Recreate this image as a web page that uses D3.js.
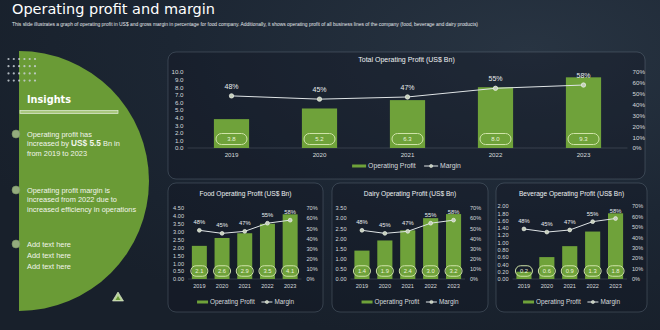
<!DOCTYPE html>
<html><head><meta charset="utf-8">
<script src="https://cdn.jsdelivr.net/npm/d3@7"></script>
<style>body{margin:0;background:#1a2330;overflow:hidden}svg{display:block}</style>
</head><body><svg id="c" width="660" height="330"></svg>
<script>
// ---------- data ----------
const years = ["2019", "2020", "2021", "2022", "2023"];
const totalProfit = [3.8, 5.2, 6.3, 8.0, 9.3];
const foodProfit = [2.1, 2.6, 2.9, 3.5, 4.1];
const dairyProfit = [1.4, 1.9, 2.4, 3.0, 3.2];
const beverageProfit = [0.2, 0.6, 0.9, 1.3, 1.8];
const marginPct = [48, 45, 47, 55, 58];
const totalTicks = [0, 1, 2, 3, 4, 5, 6, 7, 8, 9, 10];
const foodTicks = [0, 0.5, 1, 1.5, 2, 2.5, 3, 3.5, 4, 4.5];
const dairyTicks = [0, 0.5, 1, 1.5, 2, 2.5, 3, 3.5];
const beverageTicks = [0, 0.2, 0.4, 0.6, 0.8, 1.0, 1.2, 1.4, 1.6, 1.8, 2.0];
const marginTicks = [0, 10, 20, 30, 40, 50, 60, 70];
const seriesNames = ["Operating Profit", "Margin"];
const chartTitles = ["Total Operating  Profit (US$ Bn)", "Food Operating  Profit (US$ Bn)", "Dairy Operating  Profit (US$ Bn)", "Beverage  Operating  Profit (US$ Bn)"];
const insights = [
  ["Operating profit has", "increased by |US$ 5.5| Bn in", "from 2019 to 2023"],
  ["Operating profit margin is", "increased from 2022 due to", "increased efficiency in operations"],
  ["Add text here", "Add text here", "Add text here"]
];

// ---------- styles ----------
const GREEN = "#6fa23a";
const TXT = "#d6dadd";
const FONT = "'Liberation Sans', Arial, sans-serif";

const svg = d3.select("#c");
const defs = svg.append("defs");
const bg = defs.append("radialGradient").attr("id", "bg").attr("cx", "0.8").attr("cy", "0.15").attr("r", "0.9");
bg.append("stop").attr("offset", "0").attr("stop-color", "#283442");
bg.append("stop").attr("offset", "0.6").attr("stop-color", "#1c2633");
bg.append("stop").attr("offset", "1").attr("stop-color", "#18202b");
svg.append("rect").attr("width", 660).attr("height", 330).attr("fill", "url(#bg)");

// title
svg.append("text").attr("x", 12).attr("y", 13.5).attr("fill", "#ffffff")
  .attr("font-family", "'DejaVu Sans', sans-serif").attr("font-size", 14.5)
  .attr("textLength", 203).attr("lengthAdjust", "spacingAndGlyphs")
  .text("Operating profit and margin");
svg.append("text").attr("x", 12).attr("y", 26).attr("fill", "#e4e8ec")
  .attr("font-family", FONT).attr("font-size", 5.3)
  .attr("textLength", 466).attr("lengthAdjust", "spacingAndGlyphs")
  .text("This slide illustrates a graph of operating profit in US$ and gross margin in percentage for food company. Additionally, it shows operating profit of all business lines of the company (food, beverage and dairy products)");

// ---------- left insights panel ----------
const cx = 19, cy = 181, R = 130;
svg.append("path")
  .attr("d", d3.arc()({innerRadius: 0, outerRadius: R, startAngle: 0, endAngle: Math.PI}))
  .attr("transform", `translate(${cx},${cy})`)
  .attr("fill", "#6a9b36");
// dot grid
const dotCols = d3.range(6), dotRows = d3.range(4);
svg.append("g").selectAll("circle")
  .data(d3.cross(dotRows, dotCols))
  .join("circle")
  .attr("cx", d => 8.5 + d[1] * 5.3)
  .attr("cy", d => 59 + d[0] * 7.2)
  .attr("r", 1.1)
  .attr("fill", "#c9d0d6").attr("opacity", 0.85);

svg.append("text").attr("x", 27).attr("y", 103).attr("fill", "#ffffff")
  .attr("font-family", "'DejaVu Sans', sans-serif").attr("font-weight", "bold").attr("font-size", 11)
  .attr("textLength", 44).attr("lengthAdjust", "spacingAndGlyphs").text("Insights");
svg.append("rect").attr("x", 20).attr("y", 110.5).attr("width", 98).attr("height", 3)
  .attr("fill", "#a9c77e").attr("stroke", "#e6eedc").attr("stroke-width", 0.7);

const bulletY = [134, 190, 244];
const lineH = [9.7, 9.7, 11];
insights.forEach((lines, i) => {
  svg.append("circle").attr("cx", 16).attr("cy", bulletY[i]).attr("r", 4)
    .attr("fill", "#93ab7d").attr("stroke", "#7b9465").attr("stroke-width", 0.6);
  lines.forEach((ln, j) => {
    const t = svg.append("text").attr("x", 27).attr("y", bulletY[i] + 2.5 + j * lineH[i])
      .attr("fill", "#f1f5ec").attr("font-family", FONT).attr("font-size", 7.4);
    ln.split("|").forEach((part, k) => {
      const sp = t.append("tspan").text(part);
      if (k === 1) sp.attr("font-weight", "bold").attr("font-size", 8.3);
    });
  });
});
// small logo triangle
svg.append("path").attr("d", "M118,292 L123.5,301 L112.5,301 Z").attr("fill", "#b9d39a").attr("stroke", "#e0ebd2").attr("stroke-width", 0.6);
svg.append("path").attr("d", "M118,296 L120.5,300 L115.5,300 Z").attr("fill", "#6a9b36");

// ---------- chart drawing ----------
function drawChart(cfg) {
  const g = svg.append("g");
  const p = cfg.panel;
  g.append("rect").attr("x", p.x).attr("y", p.y).attr("width", p.w).attr("height", p.h)
    .attr("rx", 8).attr("fill", "rgba(14,20,30,0.32)")
    .attr("stroke", "rgba(140,155,170,0.35)").attr("stroke-width", 0.8);

  g.append("text").attr("x", p.x + p.w / 2 + (cfg.titleDx || 0)).attr("y", cfg.titleY)
    .attr("text-anchor", "middle").attr("fill", "#eef1f3")
    .attr("font-family", FONT).attr("font-size", cfg.titleSize).text(cfg.title);

  const x = d3.scaleBand().domain(years).range([cfg.left, cfg.right]).padding(0);
  const y = d3.scaleLinear().domain([0, d3.max(cfg.ticks)]).range([cfg.bottom, cfg.top]);
  const y2 = d3.scaleLinear().domain([0, 70]).range([cfg.bottom, cfg.top]);

  // left axis
  const ax = g.append("g").attr("transform", `translate(${cfg.left - 2},0)`)
    .call(d3.axisLeft(y).tickValues(cfg.ticks).tickFormat(d3.format(cfg.fmt)).tickSize(0).tickPadding(2));
  ax.select(".domain").remove();
  ax.selectAll("text").attr("fill", TXT).attr("font-family", FONT).attr("font-size", cfg.tickSize);
  // right axis
  const ax2 = g.append("g").attr("transform", `translate(${cfg.right + 3},0)`)
    .call(d3.axisRight(y2).tickValues(marginTicks).tickFormat(d => d + "%").tickSize(0).tickPadding(2));
  ax2.select(".domain").remove();
  ax2.selectAll("text").attr("fill", TXT).attr("font-family", FONT).attr("font-size", cfg.tickSize);
  // baseline
  g.append("line").attr("x1", cfg.left).attr("x2", cfg.right).attr("y1", cfg.bottom).attr("y2", cfg.bottom)
    .attr("stroke", "rgba(170,180,190,0.35)").attr("stroke-width", 0.6);
  // bottom axis labels
  const axb = g.append("g").attr("transform", `translate(0,${cfg.bottom})`)
    .call(d3.axisBottom(x).tickSize(0).tickPadding(cfg.yearPad));
  axb.select(".domain").remove();
  axb.selectAll("text").attr("fill", TXT).attr("font-family", FONT).attr("font-size", cfg.tickSize);

  const bw = x.bandwidth() * cfg.barFrac;
  const cxOf = d => x(d) + x.bandwidth() / 2;
  g.selectAll(".bar").data(cfg.values).join("rect")
    .attr("x", (d, i) => cxOf(years[i]) - bw / 2)
    .attr("y", d => y(d)).attr("width", bw).attr("height", d => cfg.bottom - y(d))
    .attr("fill", GREEN);

  // pills
  const pill = g.selectAll(".pill").data(cfg.values).join("g")
    .attr("transform", (d, i) => `translate(${cxOf(years[i])},${cfg.bottom - cfg.pillDy})`);
  pill.append("rect").attr("x", -cfg.pillW / 2).attr("y", -cfg.pillH / 2)
    .attr("width", cfg.pillW).attr("height", cfg.pillH).attr("rx", cfg.pillH / 2)
    .attr("fill", "none").attr("stroke", "#cfe3a8").attr("stroke-width", 1);
  pill.append("text").attr("text-anchor", "middle").attr("dy", "0.35em")
    .attr("fill", "#eaf2dc").attr("font-family", FONT).attr("font-size", cfg.pillFont)
    .text(d => d3.format(".1f")(d));

  // margin line
  const line = d3.line().x((d, i) => cxOf(years[i])).y(d => y2(d));
  g.append("path").datum(marginPct).attr("d", line).attr("fill", "none")
    .attr("stroke", "#dfe4e6").attr("stroke-width", 1);
  g.selectAll(".mdot").data(marginPct).join("circle")
    .attr("cx", (d, i) => cxOf(years[i])).attr("cy", d => y2(d)).attr("r", cfg.dotR)
    .attr("fill", "#c5cfbb").attr("stroke", "#eef2ea").attr("stroke-width", 0.7);
  g.selectAll(".mlab").data(marginPct).join("text")
    .attr("x", (d, i) => cxOf(years[i])).attr("y", d => y2(d) - cfg.labDy)
    .attr("text-anchor", "middle").attr("fill", "#e8ecee")
    .attr("font-family", FONT).attr("font-size", cfg.labSize).text(d => d + "%");

  // legend
  const lg = g.append("g");
  const fs = cfg.legSize;
  let cur = 0;
  lg.append("rect").attr("x", cur).attr("y", -1.5).attr("width", cfg.swW).attr("height", 3).attr("fill", GREEN);
  cur += cfg.swW + 2;
  const t1 = lg.append("text").attr("x", cur).attr("dy", "0.35em").attr("fill", TXT)
    .attr("font-family", FONT).attr("font-size", fs).text(seriesNames[0]);
  cur += t1.node().getComputedTextLength() + cfg.swW * 0.6;
  lg.append("line").attr("x1", cur).attr("x2", cur + cfg.swW).attr("stroke", "#dfe4e6").attr("stroke-width", 1);
  lg.append("circle").attr("cx", cur + cfg.swW / 2).attr("r", 1.6).attr("fill", "#c5cfbb").attr("stroke", "#eef2ea").attr("stroke-width", 0.5);
  cur += cfg.swW + 2;
  const t2 = lg.append("text").attr("x", cur).attr("dy", "0.35em").attr("fill", TXT)
    .attr("font-family", FONT).attr("font-size", fs).text(seriesNames[1]);
  cur += t2.node().getComputedTextLength();
  lg.attr("transform", `translate(${p.x + p.w / 2 - cur / 2 + (cfg.legDx || 0)},${cfg.legendY})`);
}

const smallCommon = {
  titleSize: 6.6, tickSize: 5.6, fmt: ".2f", barFrac: 0.66, pillW: 17, pillH: 10.5, pillDy: 8,
  pillFont: 5.8, dotR: 1.9, labDy: 6, labSize: 5.8, legSize: 6.4, swW: 11, yearPad: 5,
  top: 208, bottom: 279, titleY: 196, legendY: 302
};

drawChart({
  panel: {x: 168, y: 52, w: 477, h: 127}, title: chartTitles[0], titleY: 62, titleSize: 7,
  left: 187.5, right: 627.5, top: 72, bottom: 148, ticks: totalTicks, fmt: ".1f", values: totalProfit,
  tickSize: 6.2, barFrac: 0.4, pillW: 31, pillH: 11, pillDy: 9, pillFont: 6, dotR: 2.2, labDy: 7,
  labSize: 7, legSize: 6.8, swW: 14, yearPad: 5, legendY: 166
});
drawChart(Object.assign({}, smallCommon, {
  panel: {x: 168, y: 183, w: 155, h: 129}, title: chartTitles[1],
  left: 188, right: 301.5, ticks: foodTicks, values: foodProfit
}));
drawChart(Object.assign({}, smallCommon, {
  panel: {x: 332, y: 183, w: 156, h: 129}, title: chartTitles[2],
  left: 350.5, right: 465, ticks: dairyTicks, values: dairyProfit
}));
drawChart(Object.assign({}, smallCommon, {
  panel: {x: 496, y: 183, w: 151, h: 129}, title: chartTitles[3],
  left: 512.5, right: 627, ticks: beverageTicks, values: beverageProfit, top: 206
}));
</script>
</body></html>
